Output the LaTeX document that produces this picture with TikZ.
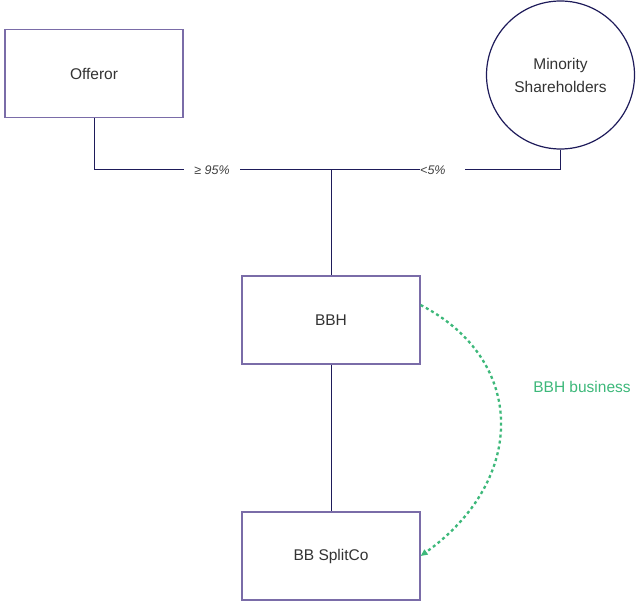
\documentclass[tikz,border=0pt]{standalone}
\usepackage{fontspec}
\setmainfont{Liberation Sans}
\usetikzlibrary{arrows.meta}
\definecolor{boxline}{HTML}{7A6CA8}
\definecolor{wire}{HTML}{1E1B5A}
\definecolor{biz}{HTML}{3DB87A}
\begin{document}
\begin{tikzpicture}[x=1pt,y=-1pt,
  entity/.style={draw=boxline,line width=1.2pt,fill=white,minimum width=178pt,minimum height=88pt,inner sep=0pt,font=\fontsize{15.5}{18}\selectfont,text=black!80},
  holder/.style={draw=wire,line width=1.2pt,fill=white,circle,minimum size=148pt,inner sep=0pt,align=center,font=\fontsize{15.5}{23}\selectfont,text=black!80},
  wireline/.style={draw=wire,line width=1pt},
  pct/.style={fill=white,inner sep=1pt,font=\itshape\fontsize{12.5}{14}\selectfont,text=black!75}]
\useasboundingbox (0,0) rectangle (636,601);
% entities
\node[entity] (off) at (94,73.5) {Offeror};
\node[holder] (min) at (560.5,75) {Minority\\Shareholders};
\node[entity] (bbh) at (331,320) {BBH};
\node[entity] (split) at (331,556) {BB SplitCo};
% ownership lines
\coordinate (j) at (331,170);
\coordinate (lk) at (94,170);
\coordinate (rk) at (560.5,170);
\draw[wireline] (off.south) -- (lk) -- (j);
\draw[wireline] (min.south) -- (rk) -- (j);
\draw[wireline] (j) -- (bbh.north);
\draw[wireline] (bbh.south) -- (split.north);
\node[pct,inner xsep=10pt] (p95) at (212,170) {≥ 95\%};
\node[pct,anchor=west,inner xsep=0pt] (p5) at (420,170) {<5\%};
\fill[white] (p5.east) ++(0,-4) rectangle (465,174);
% business transfer
\draw[biz,line width=2.3pt,dash pattern=on 3pt off 3pt,-{Triangle[length=7pt,width=6pt]}]
  (bbh.east |- 0,305) .. controls (527,360) and (527,480) .. (split.east |- 0,556);
\node[text=biz,font=\fontsize{15.5}{18}\selectfont] (lbl) at (582,387) {BBH business};
\end{tikzpicture}
\end{document}
